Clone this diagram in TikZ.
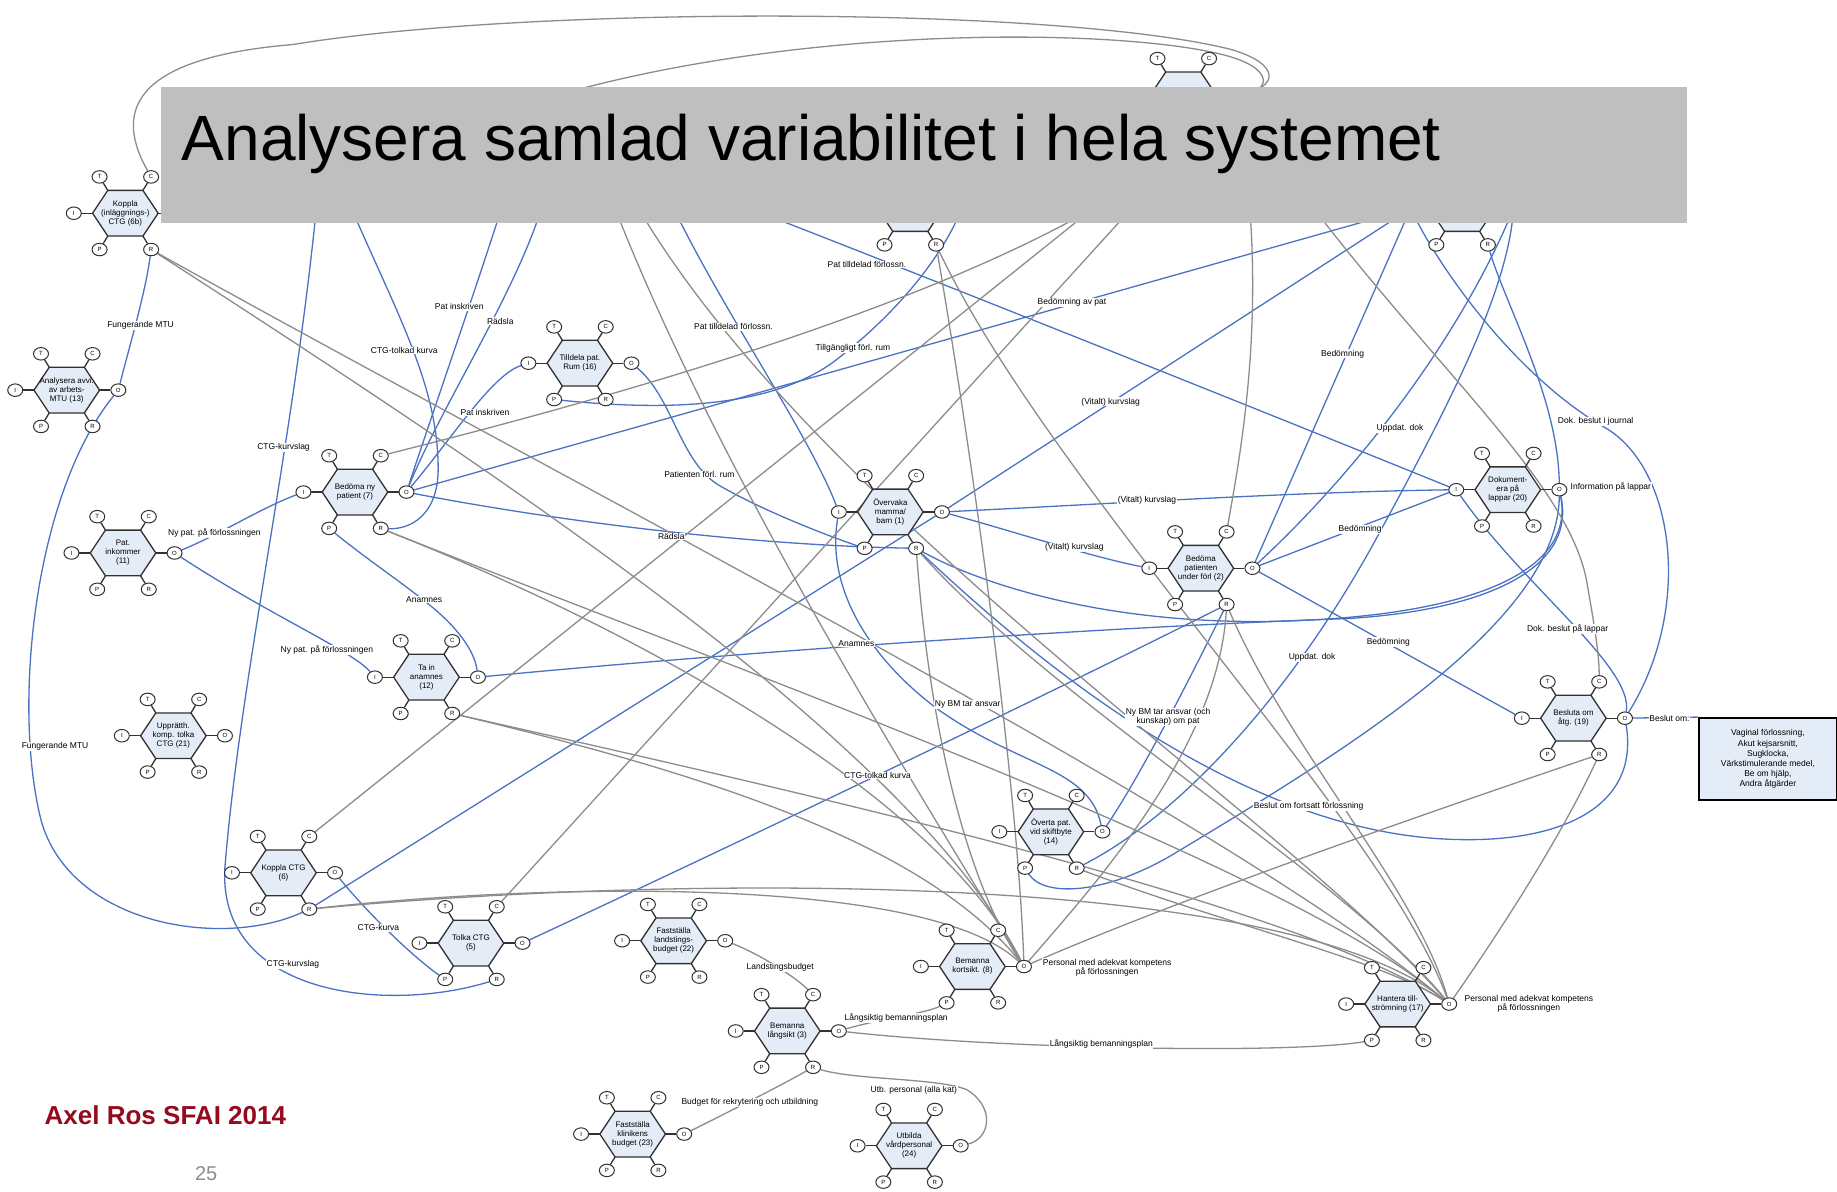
\documentclass[tikz,border=0pt]{standalone}
\usepackage{fontspec}
\setmainfont{Liberation Sans}
\usetikzlibrary{shapes.geometric}
\pgfdeclarelayer{background}
\pgfdeclarelayer{foreground}
\pgfsetlayers{background,main,foreground}
\definecolor{fblue}{RGB}{74,114,196}
\definecolor{fgray}{RGB}{140,140,140}
\definecolor{hexfill}{RGB}{228,236,247}
\definecolor{titlegray}{RGB}{191,191,191}
\definecolor{axelred}{RGB}{150,10,30}
\definecolor{pagegray}{RGB}{140,140,140}
\definecolor{hexline}{RGB}{50,50,50}
\tikzset{
 hexst/.style={draw=hexline, line width=1.3pt, fill=hexfill},
 hextxt/.style={align=center, font=\fontsize{8}{9}\selectfont, inner sep=0pt},
 asp/.style={ellipse, draw=hexline, line width=1pt, fill=white, minimum width=15pt, minimum height=12.5pt, inner sep=0pt, font=\fontsize{6}{6}\selectfont},
 spoke/.style={draw=hexline, line width=1.3pt},
 bl/.style={draw=fblue, line width=1.3pt},
 gr/.style={draw=fgray, line width=1.3pt},
 lab/.style={fill=white, inner sep=0.6pt, font=\fontsize{8.5}{9.5}\selectfont, align=center},
 boxst/.style={draw=black, line width=2.2pt, fill=hexfill, minimum width=138pt, minimum height=82pt, align=center, font=\fontsize{8.5}{10.2}\selectfont, inner sep=2pt},
}
\newcommand\lT{T}\newcommand\lC{C}\newcommand\lI{I}
\newcommand\lO{O}\newcommand\lP{P}\newcommand\lR{R}
\newcommand\framfn[4]{%
  \draw[hexst] (#2-28,#3) -- (#2-15,#3-19.5) -- (#2+15,#3-19.5) -- (#2+28,#3) -- (#2+15,#3+19.5) -- (#2-15,#3+19.5) -- cycle;
  \node[hextxt] (#1) at (#2,#3) {#4};
  \node[asp] (#1-T) at (#2-22,#3-31) {\lT};
  \node[asp] (#1-C) at (#2+22,#3-31) {\lC};
  \node[asp] (#1-I) at (#2-44,#3) {\lI};
  \node[asp] (#1-O) at (#2+44,#3) {\lO};
  \node[asp] (#1-P) at (#2-22,#3+31) {\lP};
  \node[asp] (#1-R) at (#2+22,#3+31) {\lR};
  \draw[spoke] (#2-15,#3-19.5) -- (#1-T);
  \draw[spoke] (#2+15,#3-19.5) -- (#1-C);
  \draw[spoke] (#2-28,#3) -- (#1-I);
  \draw[spoke] (#2+28,#3) -- (#1-O);
  \draw[spoke] (#2-15,#3+19.5) -- (#1-P);
  \draw[spoke] (#2+15,#3+19.5) -- (#1-R);
}
\newcommand\labn[4]{\node[lab] (#1) at (#2,#3) {#4};}
\begin{document}
\begin{tikzpicture}[x=1.1716pt, y=-1.1716pt]
\useasboundingbox (0,0) rectangle (1568,1017);
% ---------- nodes ----------
\framfn{n6b}{107}{182}{Koppla\\(inläggnings-)\\CTG (6b)}
\framfn{n10a}{57}{333}{Analysera avvi.\\av arbets-\\MTU (13)}
\framfn{n7}{303}{420}{Bedöma ny\\patient (7)}
\framfn{n16}{495}{310}{Tilldela pat.\\Rum (16)}
\framfn{n11}{105}{472}{Pat.\\inkommer\\(11)}
\framfn{n12}{364}{578}{Ta in\\anamnes\\(12)}
\framfn{n21}{148}{628}{Upprätth.\\komp. tolka\\CTG (21)}
\framfn{n1}{760}{437}{Övervaka\\mamma/\\barn (1)}
\framfn{n2}{1025}{485}{Bedöma\\patienten\\under förl (2)}
\framfn{n20}{1287}{418}{Dokument-\\era på\\lappar (20)}
\framfn{n19}{1343}{613}{Besluta om\\åtg. (19)}
\framfn{n14}{897}{710}{Överta pat.\\vid skiftbyte\\(14)}
\framfn{n6}{242}{745}{Koppla CTG\\(6)}
\framfn{n5}{402}{805}{Tolka CTG\\(5)}
\framfn{n22}{575}{803}{Fastställa\\landstings-\\budget (22)}
\framfn{n8}{830}{825}{Bemanna\\kortsikt. (8)}
\framfn{n17}{1193}{857}{Hantera till-\\strömning (17)}
\framfn{n3}{672}{880}{Bemanna\\långsikt (3)}
\framfn{n23}{540}{968}{Fastställa\\klinikens\\budget (23)}
\framfn{n24}{776}{978}{Utbilda\\vårdpersonal\\(24)}
% functions mostly hidden under the title bar: only visible aspect letters
\renewcommand\lI{}\renewcommand\lO{}\renewcommand\lP{}\renewcommand\lR{}
\framfn{ntop}{1010}{81}{Tilldela}
\renewcommand\lP{P}\renewcommand\lR{R}\renewcommand\lT{}\renewcommand\lC{}
\framfn{nmid}{777}{178}{}
\framfn{nright}{1248}{178}{}
\node[boxst] (box) at (1509,648) {Vaginal förlossning,\\Akut kejsarsnitt,\\Sugklocka,\\Värkstimulerande medel,\\Be om hjälp,\\Andra åtgärder};
% ---------- connectors ----------
\begin{pgfonlayer}{background}
\fill[white] (0,0) rectangle (1568,1017);
\coordinate (hA) at (270,178);
\coordinate (hB) at (300,178);
\coordinate (hC) at (428,178);
\coordinate (hD) at (462,178);
\coordinate (hG) at (575,178);
\coordinate (hH) at (640,178);
\coordinate (gA) at (390,110);
\coordinate (gG) at (525,178);
\coordinate (gH) at (545,178);
% blue
\draw[bl] (n10a-O) .. controls (112,290) and (124,250) .. (n6b-R);
\draw[bl] (n10a-O) .. controls (30,420) and (10,600) .. (35,700) .. controls (60,790) and (190,810) .. (n6-R);
\draw[bl] (hA) .. controls (250,380) and (205,580) .. (192,740) .. controls (185,850) and (330,865) .. (n5-R);
\draw[bl] (hB) .. controls (340,270) and (374,330) .. (374,400) .. controls (374,440) and (350,452) .. (n7-R);
\draw[bl] (n7-O) .. controls (370,350) and (405,250) .. (hC);
\draw[bl] (n7-O) .. controls (375,350) and (440,250) .. (hD);
\draw[bl] (n7-O) .. controls (385,375) and (420,320) .. (n16-I);
\draw[bl] (n7-O) -- (nright-I);
\draw[bl] (n7-O) .. controls (450,440) and (620,465) .. (n1-R);
\draw[bl] (n16-O) .. controls (575,340) and (580,395) .. (615,415) .. controls (650,435) and (700,455) .. (n1-P);
\draw[bl] (n16-P) .. controls (580,352) and (660,345) .. (710,310) .. controls (770,265) and (805,215) .. (nmid-O);
\draw[bl] (hG) .. controls (620,270) and (690,370) .. (n1-I);
\draw[bl] (hH) .. controls (800,240) and (1100,360) .. (n20-I);
\draw[bl] (n1-O) -- (nright-I);
\draw[bl] (n1-O) .. controls (950,430) and (1100,420) .. (n20-I);
\draw[bl] (n1-O) .. controls (860,452) and (930,475) .. (n2-I);
\draw[bl] (n20-O) .. controls (1345,490) and (1250,525) .. (1100,530) .. controls (950,535) and (840,500) .. (n1-R);
\draw[bl] (n12-O) .. controls (650,555) and (950,535) .. (1150,528) .. controls (1280,520) and (1345,480) .. (n20-O);
\draw[bl] (n1-I) .. controls (705,500) and (740,560) .. (800,605) .. controls (870,655) and (930,655) .. (n14-O);
\draw[bl] (n14-O) .. controls (975,660) and (1020,570) .. (n2-R);
\draw[bl] (n14-R) .. controls (1000,700) and (1100,600) .. (1180,450) .. controls (1240,340) and (1285,250) .. (nright-O);
\draw[bl] (n14-P) .. controls (890,765) and (940,765) .. (1000,730) .. controls (1150,640) and (1330,530) .. (n20-O);
\draw[bl] (n2-O) -- (nright-I);
\draw[bl] (n2-O) -- (n20-I);
\draw[bl] (n2-O) -- (n19-I);
\draw[bl] (n2-O) .. controls (1150,410) and (1240,300) .. (nright-O);
\draw[bl] (n11-O) .. controls (190,455) and (220,435) .. (n7-I);
\draw[bl] (n11-O) .. controls (230,525) and (300,555) .. (n12-I);
\draw[bl] (n7-P) .. controls (310,475) and (340,495) .. (365,515) .. controls (390,535) and (405,555) .. (n12-O);
\draw[bl] (n6-O) .. controls (310,775) and (350,815) .. (n5-P);
\draw[bl] (n5-O) .. controls (650,710) and (900,590) .. (n2-R);
\draw[bl] (n1-O) -- (n6-R);
\draw[bl] (n19-O) .. controls (1445,520) and (1430,400) .. (1370,365) .. controls (1300,325) and (1235,240) .. (nright-I);
\draw[bl] (n19-O) .. controls (1395,570) and (1300,500) .. (n20-I);
\draw[bl] (n19-O) .. controls (1400,690) and (1330,722) .. (1230,716) .. controls (1050,705) and (880,560) .. (n1-R);
\draw[bl] (n19-O) -- (box.north west);
\draw[bl] (n20-O) .. controls (1330,340) and (1285,260) .. (nright-R);
% gray
\draw[gr] (n6b-C) .. controls (100,100) and (105,50) .. (250,38) .. controls (450,5) and (900,5) .. (1050,42) .. controls (1095,55) and (1090,75) .. (ntop-O);
\draw[gr] (ntop-O) .. controls (1085,78) and (1088,58) .. (1045,47) .. controls (950,22) and (620,18) .. (gA);
\draw[gr] (n7-C) .. controls (600,320) and (950,215) .. (ntop-O);
\draw[gr] (n6-C) -- (ntop-O);
\draw[gr] (n5-C) -- (ntop-O);
\draw[gr] (ntop-O) .. controls (1085,250) and (1060,380) .. (n2-C);
\draw[gr] (ntop-O) .. controls (1180,280) and (1340,400) .. (1355,500) .. controls (1362,540) and (1365,560) .. (n19-C);
\draw[gr] (n6b-R) .. controls (450,420) and (780,640) .. (n8-O);
\draw[gr] (n6b-R) .. controls (500,420) and (1050,700) .. (n17-O);
\draw[gr] (n7-R) .. controls (550,540) and (800,680) .. (n8-O);
\draw[gr] (n7-R) .. controls (650,580) and (1100,740) .. (n17-O);
\draw[gr] (n12-R) .. controls (600,660) and (790,720) .. (n8-O);
\draw[gr] (n12-R) .. controls (700,680) and (1100,770) .. (n17-O);
\draw[gr] (n1-R) .. controls (795,640) and (830,760) .. (n8-O);
\draw[gr] (n1-R) .. controls (900,600) and (1150,750) .. (n17-O);
\draw[gr] (n2-R) .. controls (1040,640) and (930,760) .. (n8-O);
\draw[gr] (n2-R) .. controls (1100,640) and (1210,760) .. (n17-O);
\draw[gr] (nmid-R) .. controls (840,450) and (870,700) .. (n8-O);
\draw[gr] (nmid-R) .. controls (900,420) and (1180,700) .. (n17-O);
\draw[gr] (gG) .. controls (620,420) and (800,700) .. (n8-O);
\draw[gr] (gH) .. controls (700,440) and (1100,700) .. (n17-O);
\draw[gr] (n6-R) .. controls (450,755) and (790,745) .. (n8-O);
\draw[gr] (n6-R) .. controls (600,745) and (1100,745) .. (n17-O);
\draw[gr] (n19-R) .. controls (1200,700) and (1000,770) .. (n8-O);
\draw[gr] (n19-R) .. controls (1330,720) and (1270,810) .. (n17-O);
\draw[gr] (n14-R) .. controls (1050,790) and (1180,820) .. (n17-O);
\draw[gr] (n3-C) .. controls (680,835) and (650,815) .. (n22-O);
\draw[gr] (n3-O) .. controls (750,870) and (790,865) .. (n8-P);
\draw[gr] (n3-O) .. controls (850,895) and (1100,900) .. (n17-P);
\draw[gr] (n3-R) .. controls (660,930) and (620,950) .. (n23-O);
\draw[gr] (n3-R) .. controls (730,922) and (800,920) .. (825,930) .. controls (850,945) and (845,972) .. (n24-O);
\end{pgfonlayer}
% ---------- labels ----------
\labn{l1}{120}{278}{Fungerande MTU}
\labn{l2}{47}{637}{Fungerande MTU}
\labn{l3}{242}{382}{CTG-kurvslag}
\labn{l4}{250}{823}{CTG-kurvslag}
\labn{l5}{345}{299}{CTG-tolkad kurva}
\labn{l6}{392}{262}{Pat inskriven}
\labn{l7}{427}{274}{Rädsla}
\labn{l8}{414}{352}{Pat inskriven}
\labn{l9}{183}{455}{Ny pat. på förlossningen}
\labn{l10}{279}{555}{Ny pat. på förlossningen}
\labn{l11}{362}{512}{Anamnes}
\labn{l12}{731}{549}{Anamnes}
\labn{l13}{573}{458}{Rädsla}
\labn{l14}{597}{405}{Patienten förl. rum}
\labn{l15}{728}{297}{Tillgängligt förl. rum}
\labn{l16}{626}{279}{Pat tilldelad förlossn.}
\labn{l17}{740}{226}{Pat tilldelad förlossn.}
\labn{l18}{915}{258}{Bedömning av pat}
\labn{l19}{948}{343}{(Vitalt) kurvslag}
\labn{l20}{979}{427}{(Vitalt) kurvslag}
\labn{l21}{917}{467}{(Vitalt) kurvslag}
\labn{l22}{1146}{302}{Bedömning}
\labn{l23}{1161}{452}{Bedömning}
\labn{l24}{1185}{548}{Bedömning}
\labn{l25}{1195}{366}{Uppdat. dok}
\labn{l26}{1120}{561}{Uppdat. dok}
\labn{l27}{1362}{360}{Dok. beslut i journal}
\labn{l28}{1338}{537}{Dok. beslut på lappar}
\labn{l29}{1375}{416}{Information på lappar}
\labn{l30}{1117}{688}{Beslut om fortsatt förlossning}
\labn{l31}{1425}{613}{Beslut om:}
\labn{l32}{826}{601}{Ny BM tar ansvar}
\labn{l33}{997}{612}{Ny BM tar ansvar (och\\kunskap) om pat}
\labn{l34}{749}{662}{CTG-tolkad kurva}
\labn{l35}{323}{792}{CTG-kurva}
\labn{l36}{945}{826}{Personal med adekvat kompetens\\på förlossningen}
\labn{l37}{1305}{857}{Personal med adekvat kompetens\\på förlossningen}
\labn{l38}{666}{826}{Landstingsbudget}
\labn{l39}{765}{869}{Långsiktig bemanningsplan}
\labn{l40}{940}{891}{Långsiktig bemanningsplan}
\labn{l41}{640}{941}{Budget för rekrytering och utbildning}
\labn{l42}{780}{931}{Utb. personal (alla kat)}
% ---------- title and footer ----------
\begin{pgfonlayer}{foreground}
\fill[titlegray] (137,74) rectangle (1440,190);
\node[anchor=base west, inner sep=0pt, font=\fontsize{64}{64}\selectfont] (title) at (155,137) {Analysera samlad variabilitet i hela systemet};
\node[anchor=base west, inner sep=0pt, text=axelred, font=\bfseries\fontsize{26}{26}\selectfont] (foot) at (38,960) {Axel Ros SFAI 2014};
\node[anchor=base, inner sep=0pt, text=pagegray, font=\fontsize{20}{20}\selectfont] (pagenr) at (176,1008) {25};
\end{pgfonlayer}
\end{tikzpicture}
\end{document}
